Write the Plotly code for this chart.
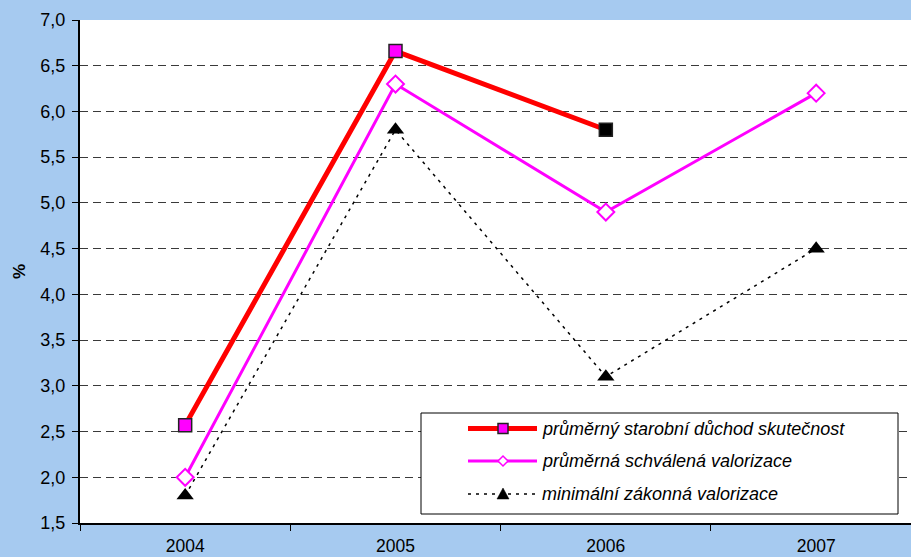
import plotly.graph_objects as go

# ---- data ----------------------------------------------------------------
years = ["2004", "2005", "2006", "2007"]

duchod_skutecnost = [2.57, 6.66, 5.80, None]        # průměrný starobní důchod skutečnost
schvalena_valorizace = [2.00, 6.30, 4.90, 6.20]     # průměrná schválená valorizace
minimalni_valorizace = [1.80, 5.80, 3.10, 4.50]     # minimální zákonná valorizace

series_names = [
    "průměrný starobní důchod skutečnost",
    "průměrná schválená valorizace",
    "minimální zákonná valorizace",
]

y_tick_values = [1.5, 2.0, 2.5, 3.0, 3.5, 4.0, 4.5, 5.0, 5.5, 6.0, 6.5, 7.0]

# ---- page geometry (pixels) ------------------------------------------------
W, H = 911, 557
PLOT_L, PLOT_R, PLOT_T, PLOT_B = 80, 911, 20, 523
CAT_STEP = 210.33  # width of one category slot


def px(x):
    return (x - PLOT_L) / (PLOT_R - PLOT_L)


def py(y):
    return (PLOT_B - y) / (PLOT_B - PLOT_T)


FONT = "Liberation Sans, Arial, sans-serif"
MAGENTA = "#FF00FF"
RED = "#FF0000"

fig = go.Figure()

fig.add_trace(go.Scatter(
    x=years, y=duchod_skutecnost, name=series_names[0],
    mode="lines+markers",
    line=dict(color=RED, width=5),
    marker=dict(symbol="square", size=13,
                color=[MAGENTA, MAGENTA, "#000000", MAGENTA],
                line=dict(color="#222222", width=1.5)),
    showlegend=False,
))

fig.add_trace(go.Scatter(
    x=years, y=schvalena_valorizace, name=series_names[1],
    mode="lines+markers",
    line=dict(color=MAGENTA, width=3),
    marker=dict(symbol="diamond", size=13, color="white",
                line=dict(color=MAGENTA, width=2)),
    showlegend=False,
))

fig.add_trace(go.Scatter(
    x=years, y=minimalni_valorizace, name=series_names[2],
    mode="lines+markers",
    line=dict(color="black", width=1.5, dash="3px,5px"),
    marker=dict(symbol="triangle-up", size=15, color="black"),
    showlegend=False,
))

# ---- legend box ------------------------------------------------------------
shapes = [dict(type="rect", xref="paper", yref="paper", layer="above",
               x0=px(421), x1=px(898), y0=py(413), y1=py(514),
               fillcolor="white", line=dict(color="black", width=1))]

rows_y = [428.5, 461, 494]
LINE_X0, LINE_X1, MARK_X, TEXT_X = 468, 537, 503, 540

# sample 1: thick red line with magenta square
shapes.append(dict(type="line", xref="paper", yref="paper", layer="above",
                   x0=px(LINE_X0), x1=px(LINE_X1), y0=py(rows_y[0]), y1=py(rows_y[0]),
                   line=dict(color=RED, width=5)))
shapes.append(dict(type="rect", xref="paper", yref="paper", layer="above",
                   x0=px(MARK_X - 5), x1=px(MARK_X + 5),
                   y0=py(rows_y[0] + 5), y1=py(rows_y[0] - 5),
                   fillcolor=MAGENTA, line=dict(color="#222222", width=1.5)))

# sample 2: magenta line with open diamond
shapes.append(dict(type="line", xref="paper", yref="paper", layer="above",
                   x0=px(LINE_X0), x1=px(LINE_X1), y0=py(rows_y[1]), y1=py(rows_y[1]),
                   line=dict(color=MAGENTA, width=3)))
d = 5
shapes.append(dict(type="path", xref="paper", yref="paper", layer="above",
                   path=(f"M{px(MARK_X - d)},{py(rows_y[1])} L{px(MARK_X)},{py(rows_y[1] - d)} "
                         f"L{px(MARK_X + d)},{py(rows_y[1])} L{px(MARK_X)},{py(rows_y[1] + d)} Z"),
                   fillcolor="white", line=dict(color=MAGENTA, width=1.5)))

# sample 3: dotted black line with triangle
shapes.append(dict(type="line", xref="paper", yref="paper", layer="above",
                   x0=px(LINE_X0), x1=px(LINE_X1), y0=py(rows_y[2]), y1=py(rows_y[2]),
                   line=dict(color="black", width=1.5, dash="3px,5px")))
t = 6
shapes.append(dict(type="path", xref="paper", yref="paper", layer="above",
                   path=(f"M{px(MARK_X - t)},{py(rows_y[2] + t - 1)} L{px(MARK_X)},{py(rows_y[2] - t)} "
                         f"L{px(MARK_X + t)},{py(rows_y[2] + t - 1)} Z"),
                   fillcolor="black", line=dict(color="black", width=0.5)))

annotations = [
    dict(xref="paper", yref="paper", x=px(TEXT_X), y=py(ry), text=name,
         showarrow=False, xanchor="left", yanchor="middle",
         font=dict(family=FONT, size=18, color="black", style="italic"))
    for name, ry in zip(series_names, rows_y)
]

# y-axis unit label
annotations.append(dict(xref="paper", yref="paper", x=px(19), y=py(272),
                        text="<b>%</b>", showarrow=False, textangle=-90,
                        xanchor="center", yanchor="middle",
                        font=dict(family=FONT, size=17, color="black")))

fig.update_layout(
    width=W, height=H,
    margin=dict(l=PLOT_L, r=W - PLOT_R, t=PLOT_T, b=H - PLOT_B, pad=0, autoexpand=False),
    paper_bgcolor="#A6CAF0",
    plot_bgcolor="white",
    separators=", ",
    font=dict(family=FONT, size=18, color="black"),
    shapes=shapes,
    annotations=annotations,
    showlegend=False,
)

fig.update_xaxes(
    type="category", categoryorder="array", categoryarray=years,
    range=[-0.5, -0.5 + (PLOT_R - PLOT_L) / CAT_STEP],
    tickson="boundaries", ticks="outside", ticklen=6, tickcolor="black", tickwidth=1,
    showline=True, linecolor="black", linewidth=2,
    showgrid=False, zeroline=False, automargin=False,
    tickfont=dict(size=17.5), ticklabelstandoff=6,
)

fig.update_yaxes(
    range=[1.5, 7.0], tickvals=y_tick_values, tickformat=".1f",
    ticks="outside", ticklen=6, tickcolor="black", tickwidth=1,
    showline=True, linecolor="black", linewidth=2,
    showgrid=True, gridcolor="#3a3a3a", gridwidth=1, griddash="8px,5px",
    zeroline=False, automargin=False,
    tickfont=dict(size=18), ticklabelstandoff=3,
)

fig.write_html("out.html")
